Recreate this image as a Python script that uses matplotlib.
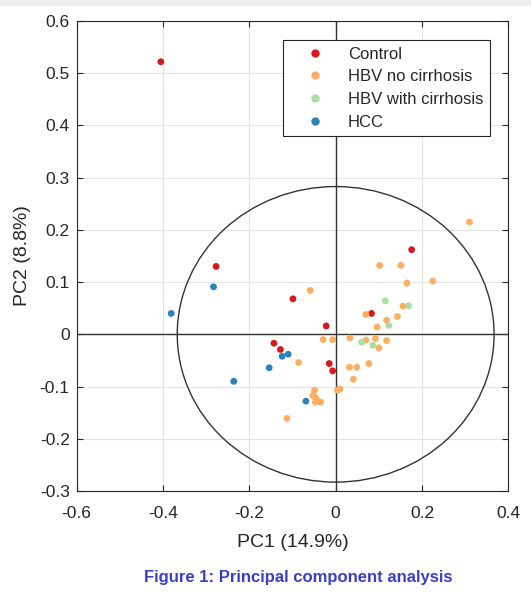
import matplotlib.pyplot as plt
from matplotlib import font_manager
from matplotlib.patches import Ellipse, Rectangle
from matplotlib.lines import Line2D
import numpy as np

plt.rcParams.update({"font.family": ["Liberation Sans", "DejaVu Sans"]})

# scores
control_x = [-0.405, -0.277, 0.176, -0.099, 0.083, -0.022, -0.143, -0.128, -0.015, -0.007]
control_y = [0.522, 0.130, 0.162, 0.068, 0.040, 0.016, -0.017, -0.029, -0.056, -0.070]

hbv_x = [0.310, 0.102, 0.151, 0.225, 0.165, -0.059, 0.156, 0.070, 0.143, 0.118, 0.096,
         -0.029, -0.007, 0.033, 0.070, 0.092, 0.118, 0.100, -0.086, 0.077, 0.032, 0.049,
         0.041, 0.004, 0.010, -0.049, -0.053, -0.046, -0.047, -0.035, -0.113]
hbv_y = [0.215, 0.132, 0.132, 0.102, 0.098, 0.084, 0.054, 0.038, 0.034, 0.027, 0.014,
         -0.010, -0.010, -0.007, -0.011, -0.008, -0.012, -0.026, -0.054, -0.056, -0.063, -0.063,
         -0.086, -0.107, -0.105, -0.107, -0.117, -0.122, -0.130, -0.130, -0.161]

cirr_x = [0.115, 0.169, 0.123, 0.060, 0.086]
cirr_y = [0.064, 0.055, 0.017, -0.015, -0.021]

hcc_x = [-0.381, -0.283, -0.124, -0.110, -0.154, -0.236, -0.069]
hcc_y = [0.040, 0.091, -0.042, -0.038, -0.064, -0.090, -0.128]

groups = ["Control", "HBV no cirrhosis", "HBV with cirrhosis", "HCC"]
colors = ["#d7191c", "#fdae61", "#abdda4", "#2b83ba"]

fig = plt.figure(figsize=(5.31, 6.02), dpi=100)
# thin grey strip at the very top of the screenshot
fig.patches.append(Rectangle((0, 0.992), 1, 0.008, transform=fig.transFigure,
                             color="#eeeeee", zorder=0))
ax = fig.add_axes([0.1444, 0.1844, 0.8129, 0.7807])

dark = "#262626"
ax.set_xlim(-0.6, 0.4)
ax.set_ylim(-0.3, 0.6)
ax.set_xticks(np.arange(-0.6, 0.41, 0.2))
ax.set_yticks(np.arange(-0.3, 0.61, 0.1))
ax.set_xticklabels(["-0.6", "-0.4", "-0.2", "0", "0.2", "0.4"])
ax.set_yticklabels(["-0.3", "-0.2", "-0.1", "0", "0.1", "0.2", "0.3", "0.4", "0.5", "0.6"])
ax.tick_params(direction="in", top=True, right=True, length=4, width=0.8,
               colors=dark, labelsize=12.5, labelcolor=dark)
ax.tick_params(axis="x", pad=11)
ax.tick_params(axis="y", pad=5)
ax.grid(True, color="#e3e3e3", linewidth=0.8)
ax.set_axisbelow(True)
for s in ax.spines.values():
    s.set_color(dark)
    s.set_linewidth(0.8)

ax.axhline(0, color="#333333", lw=1.0, zorder=1)
ax.axvline(0, color="#333333", lw=1.0, zorder=1)
ax.add_patch(Ellipse((0, 0), 0.734, 0.566, fill=False, edgecolor="#333333", lw=1.0, zorder=1))

data = [(control_x, control_y), (hbv_x, hbv_y), (cirr_x, cirr_y), (hcc_x, hcc_y)]
for (xs, ys), c in zip(data, colors):
    ax.scatter(xs, ys, s=24, color=c, edgecolors="none", zorder=3)

handles = [Line2D([], [], marker="o", ls="none", color=c, markersize=5) for c in colors]
leg = ax.legend(handles, groups, loc="upper right", bbox_to_anchor=(0.9576, 0.9596),
                borderaxespad=0, fontsize=12, fancybox=False, framealpha=1, edgecolor=dark,
                handletextpad=0.42, borderpad=0.4, labelspacing=0.46, handlelength=3.1)
leg.get_frame().set_linewidth(0.8)
for t in leg.get_texts():
    t.set_color(dark)

ax.set_xlabel("PC1 (14.9%)", fontsize=14, color=dark, labelpad=9)
ax.set_ylabel("PC2 (8.8%)", fontsize=14, color=dark, labelpad=6)

# caption in a condensed bold face when one is available
try:
    font_manager.findfont("Liberation Sans Narrow", fallback_to_default=False)
    cap_family, cap_size = ["Liberation Sans Narrow", "Liberation Sans"], 13.5
except Exception:
    cap_family, cap_size = ["Liberation Sans", "DejaVu Sans"], 12
fig.text(0.561, 0.04, "Figure 1: Principal component analysis", ha="center", va="center",
         fontsize=cap_size, fontweight="bold", color="#3b3fc4", family=cap_family)

fig.savefig("out.png", dpi=100)
